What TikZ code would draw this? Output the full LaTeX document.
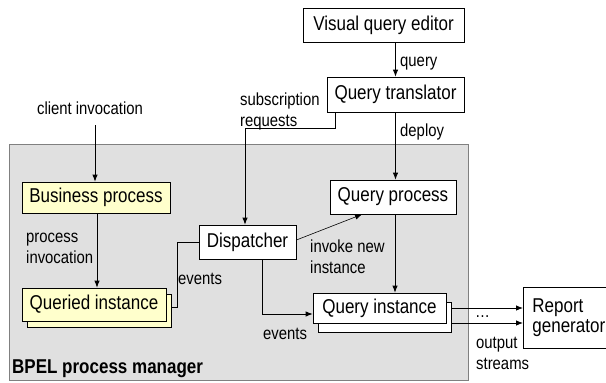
\documentclass[tikz,border=0pt]{standalone}
\usepackage{fontspec}
\setmainfont{Liberation Sans}[FakeStretch=0.85]
\usepackage{xcolor}
\usetikzlibrary{arrows.meta,positioning}
\definecolor{bpelgray}{RGB}{224,224,224}
\definecolor{procyellow}{RGB}{255,255,204}

\begin{document}
\begin{tikzpicture}[
    x                  = 1pt,
    y                  = -1pt,
    box/.style         = {draw, fill=white, line width=0.8pt, inner sep=0pt,
                          font=\fontsize{20}{20}\selectfont},
    procbox/.style     = {box, fill=procyellow},
    bpelbox/.style     = {draw=gray, fill=bpelgray, line width=0.8pt},
    lbl/.style         = {inner sep=0pt, align=left, anchor=west,
                          font=\fontsize{17.5}{21}\selectfont},
    plainline/.style   = {draw, line width=0.8pt},
    flowarrow/.style   = {plainline, -{Latex[length=7pt,width=5.5pt]}}
  ]
\useasboundingbox (0,0) rectangle (606,383);
\node[bpelbox, minimum width=459, minimum height=236] (bpel) at (238.5,262) {};
\node[anchor=base west, inner sep=0pt, font=\bfseries\fontsize{20}{20}\selectfont]
  (bpelname) at (12,373) {BPEL process manager};

\node[box, minimum width=161, minimum height=34] (editor) at (383.5,25) {Visual query editor};
\node[box, minimum width=137, minimum height=35] (translator) at (395.5,94.5) {Query translator};
\node[box, minimum width=126, minimum height=34] (qprocess) at (393,197) {Query process};
\node[box, minimum width=97, minimum height=34] (dispatcher) at (247.5,242) {Dispatcher};
\node[procbox, minimum width=148, minimum height=31] (business) at (96,197.5) {Business process};
\node[procbox, minimum width=144, minimum height=33] (queriedback) at (99,310.5) {};
\node[procbox, minimum width=144, minimum height=33] (queried) at (94,304.5) {Queried instance};
\node[box, minimum width=133, minimum height=30] (qinstback) at (384.5,317) {};
\node[box, minimum width=133, minimum height=30] (qinst) at (379.5,308) {Query instance};
\node[box, anchor=north west, minimum height=61, text width=76, inner xsep=9, align=left]
  (report) at (523,287) {Report\\generator};

\node[lbl, anchor=center] (clientinv) at (90,108.5) {client invocation};
\node[lbl] (subreq) at (240,111) {subscription\\requests};
\node[lbl] (querylbl) at (400,64) {query};
\node[lbl] (deploylbl) at (400,132) {deploy};
\node[lbl] (procinv) at (26,248) {process\\invocation};
\node[lbl] (eventsleft) at (178,279) {events};
\node[lbl] (invokenew) at (310,257) {invoke new\\instance};
\node[lbl] (eventsdown) at (263,334) {events};
\node[lbl] (dots) at (475,317) {\dots};
\node[lbl] (outstreams) at (476,353) {output\\streams};

\coordinate (clientstart) at (95,125);
\draw[flowarrow] (translator.north |- editor.south) -- (translator.north);
\draw[flowarrow] (translator.south) -- (translator.south |- qprocess.north);
\draw[flowarrow] ([xshift=9pt]translator.south west) -- ++(0,16) -| ([xshift=-2.5pt]dispatcher.north);
\draw[flowarrow] (clientstart) -- (clientstart |- business.north);
\draw[flowarrow] ([xshift=1pt]business.south) -- ([xshift=1pt]business.south |- queried.north);
\draw[plainline] ([yshift=3pt]queriedback.east) -- ++(6,0) |- (dispatcher.west);
\draw[flowarrow, line width=0.6pt] ([yshift=2pt]dispatcher.east) -- ([xshift=-31pt]qprocess.south);
\draw[flowarrow] ([xshift=14.5pt]dispatcher.south) |- ([yshift=-6pt]qinst.west);
\draw[flowarrow] ([xshift=2pt]qprocess.south) -- ([xshift=2pt]qprocess.south |- qinst.north);
\draw[flowarrow] ([yshift=9pt]qinstback.east) -- ([yshift=9pt]qinstback.east -| report.west);
\draw[flowarrow] ([yshift=-6pt]qinstback.east) -- ([yshift=-6pt]qinstback.east -| report.west);
\end{tikzpicture}
\end{document}
